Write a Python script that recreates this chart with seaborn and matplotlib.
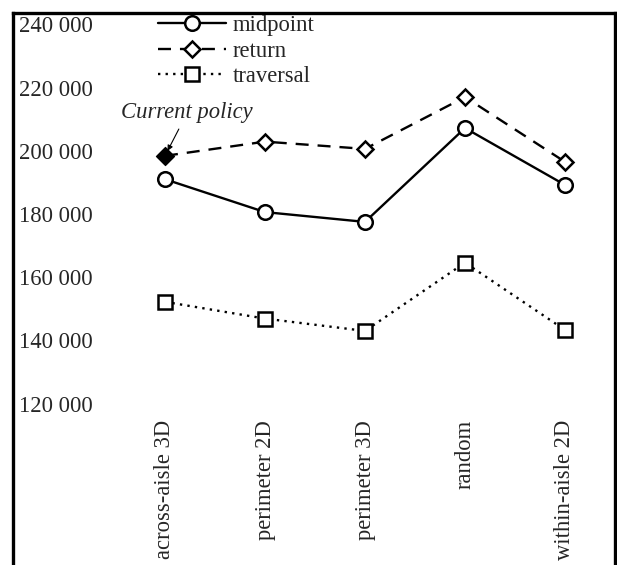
import numpy as np
import pandas as pd
import matplotlib
matplotlib.use("Agg")
import matplotlib.pyplot as plt
import seaborn as sns

categories = ["across-aisle 3D", "perimeter 2D", "perimeter 3D", "random", "within-aisle 2D"]
midpoint = [191000, 180600, 177500, 207200, 189200]
ret = [198400, 202900, 200600, 217000, 196500]
traversal = [152200, 146900, 143000, 164600, 143300]
ytick_vals = [120000, 140000, 160000, 180000, 200000, 220000, 240000]
ytick_labels = ["120 000", "140 000", "160 000", "180 000", "200 000", "220 000", "240 000"]
current_policy_idx = 0
current_policy_label = "Current policy"

sns.set_style("white")
plt.rcParams["font.family"] = ["Liberation Serif", "DejaVu Serif"]

W, H = 617, 565
fig = plt.figure(figsize=(W / 100, H / 100), dpi=100)
ax = fig.add_axes([13 / W, 0, (615 - 13) / W, 1 - 13 / H])

x = np.arange(len(categories))
fs = 16.3

series = [
    ("midpoint", midpoint, "-", "o", 10.5),
    ("return", ret, (0, (5.5, 3.8)), "D", 8),
    ("traversal", traversal, (0, (1, 2.2)), "s", 10),
]
for name, vals, ls, mk, ms in series:
    sns.lineplot(x=x, y=vals, ax=ax, color="black", linestyle=ls, linewidth=1.7,
                 marker=mk, markersize=ms, markerfacecolor="white",
                 markeredgecolor="black", markeredgewidth=1.8, label=name,
                 sort=False)

# current policy highlighted (filled diamond)
sns.scatterplot(x=[x[current_policy_idx]], y=[ret[current_policy_idx]], ax=ax,
                marker="D", s=64, color="black", edgecolor="black", linewidth=1.8,
                zorder=5, legend=False)

ax.annotate(current_policy_label, xy=(x[current_policy_idx], ret[current_policy_idx]),
            xytext=(16, 31), textcoords="offset points", ha="center", va="center",
            fontsize=fs, fontstyle="italic",
            arrowprops=dict(arrowstyle="-|>", color="black", lw=0.8,
                            shrinkA=2, shrinkB=4, mutation_scale=8))

ax.set_xlim(-1.52, 4.5)
ax.set_ylim(180000 - (565 - 214) / 0.00316, 180000 + (214 - 13) / 0.00316)

ax.set_yticks(ytick_vals)
ax.set_yticklabels(ytick_labels, fontsize=fs, ha="left")
ax.tick_params(axis="y", length=0, pad=-4)

ax.set_xticks(x)
ax.set_xticklabels(categories, fontsize=fs, rotation=90, va="top")
ax.tick_params(axis="x", length=0, pad=-(565 - 420) * 0.72)

ax.set_xlabel("")
ax.set_ylabel("")

for side in ["left", "top", "right"]:
    ax.spines[side].set_visible(True)
    ax.spines[side].set_color("black")
    ax.spines[side].set_linewidth(2.4)
ax.spines["bottom"].set_visible(False)

leg = ax.legend(loc="upper left", bbox_to_anchor=(158 / W, 1 - 15 / H),
                bbox_transform=fig.transFigure, frameon=False, fontsize=fs,
                handlelength=3.0, handletextpad=0.3, labelspacing=0.2,
                borderpad=0.0, borderaxespad=0.0)

fig.savefig("out.png", dpi=100)
